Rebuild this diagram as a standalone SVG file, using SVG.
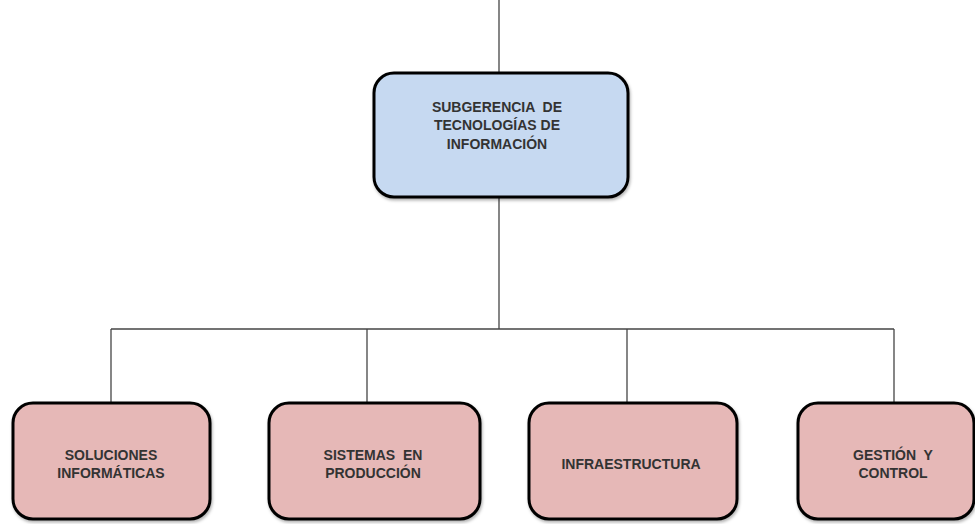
<svg xmlns="http://www.w3.org/2000/svg" width="975" height="524" viewBox="0 0 975 524">
<style>
.box{stroke:#000;stroke-width:3}
.top{fill:#c6d9f1}
.unit{fill:#e6b8b7}
.lbl{font-family:"Liberation Sans",Arial,sans-serif;font-weight:bold;font-size:14px;fill:#333;text-anchor:middle;white-space:pre}
.conn{stroke:#444;stroke-width:1.3;fill:none}
</style>
<defs>
<filter id="sh" x="-10%" y="-10%" width="120%" height="130%">
<feDropShadow dx="1" dy="2" stdDeviation="1.5" flood-color="#000" flood-opacity="0.3"/>
</filter>
</defs>
<g id="connectors">
<line class="conn" x1="499" y1="0" x2="499" y2="73"/>
<line class="conn" x1="499" y1="197" x2="499" y2="329"/>
<line class="conn" x1="111" y1="329" x2="894" y2="329"/>
<line class="conn" x1="111" y1="329" x2="111" y2="403"/>
<line class="conn" x1="367" y1="329" x2="367" y2="403"/>
<line class="conn" x1="627" y1="329" x2="627" y2="403"/>
<line class="conn" x1="894" y1="329" x2="894" y2="403"/>
</g>
<g id="subgerencia">
<rect class="box top" x="374" y="73" width="254" height="124" rx="20" filter="url(#sh)"/>
<text class="lbl" x="497" y="112" xml:space="preserve">SUBGERENCIA  DE</text>
<text class="lbl" x="497" y="130">TECNOLOGÍAS DE</text>
<text class="lbl" x="497" y="149">INFORMACIÓN</text>
</g>
<g id="soluciones">
<rect class="box unit" x="13" y="403" width="197" height="116" rx="20" filter="url(#sh)"/>
<text class="lbl" x="111" y="460">SOLUCIONES</text>
<text class="lbl" x="111" y="478">INFORMÁTICAS</text>
</g>
<g id="sistemas">
<rect class="box unit" x="269" y="403" width="211" height="116" rx="20" filter="url(#sh)"/>
<text class="lbl" x="373" y="460" xml:space="preserve">SISTEMAS  EN</text>
<text class="lbl" x="373" y="478">PRODUCCIÓN</text>
</g>
<g id="infraestructura">
<rect class="box unit" x="529" y="403" width="208" height="116" rx="20" filter="url(#sh)"/>
<text class="lbl" x="631" y="469">INFRAESTRUCTURA</text>
</g>
<g id="gestion">
<rect class="box unit" x="798" y="403" width="176" height="116" rx="20" filter="url(#sh)"/>
<text class="lbl" x="893" y="460" xml:space="preserve">GESTIÓN  Y</text>
<text class="lbl" x="893" y="478">CONTROL</text>
</g>
</svg>
